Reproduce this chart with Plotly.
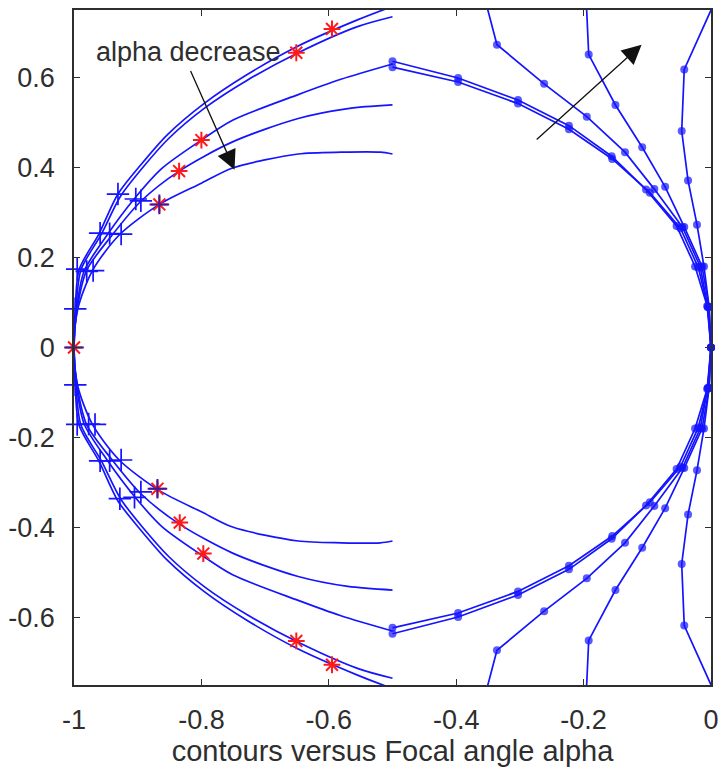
import plotly.graph_objects as go

# ---- axis ticks -----------------------------------------------------------
x_tick_vals = [-1, -0.8, -0.6, -0.4, -0.2, 0]
x_tick_text = ["-1", "-0.8", "-0.6", "-0.4", "-0.2", "0"]
y_tick_vals = [-0.6, -0.4, -0.2, 0, 0.2, 0.4, 0.6]
y_tick_text = ["-0.6", "-0.4", "-0.2", "0", "0.2", "0.4", "0.6"]

# ---- left-hand contours (one per focal angle), lower end -> (-1,0) -> upper end
curve_a_x = [-0.500, -0.555, -0.648, -0.730, -0.796, -0.854, -0.895, -0.931, -0.961, -0.992, -0.998, -1.000,
             -0.998, -0.992, -0.961, -0.931, -0.895, -0.854, -0.796, -0.730, -0.648, -0.555, -0.500]
curve_a_y = [-0.758, -0.728, -0.670, -0.605, -0.542, -0.472, -0.406, -0.341, -0.252, -0.173, -0.086, 0.000,
             0.086, 0.173, 0.252, 0.341, 0.406, 0.472, 0.542, 0.605, 0.670, 0.728, 0.758]

curve_b_x = [-0.500, -0.555, -0.648, -0.728, -0.794, -0.851, -0.892, -0.927, -0.957, -0.989, -0.997, -1.000,
             -0.997, -0.989, -0.957, -0.927, -0.892, -0.851, -0.794, -0.728, -0.648, -0.555, -0.500]
curve_b_y = [-0.735, -0.713, -0.655, -0.594, -0.533, -0.465, -0.400, -0.336, -0.252, -0.173, -0.086, 0.000,
             0.086, 0.173, 0.252, 0.336, 0.400, 0.465, 0.533, 0.594, 0.655, 0.713, 0.735]

curve_c_x = [-0.500, -0.581, -0.648, -0.751, -0.800, -0.862, -0.905, -0.948, -0.984, -0.996, -1.000,
             -0.996, -0.984, -0.948, -0.905, -0.862, -0.800, -0.751, -0.648, -0.581, -0.500]
curve_c_y = [-0.630, -0.596, -0.562, -0.505, -0.461, -0.398, -0.331, -0.250, -0.170, -0.086, 0.000,
             0.086, 0.170, 0.250, 0.331, 0.398, 0.461, 0.505, 0.562, 0.596, 0.630]

curve_d_x = [-0.500, -0.570, -0.648, -0.751, -0.835, -0.895, -0.940, -0.980, -0.995, -1.000,
             -0.995, -0.980, -0.940, -0.895, -0.835, -0.751, -0.648, -0.570, -0.500]
curve_d_y = [-0.539, -0.531, -0.509, -0.457, -0.392, -0.325, -0.250, -0.172, -0.086, 0.000,
             0.086, 0.172, 0.250, 0.325, 0.392, 0.457, 0.509, 0.531, 0.539]

curve_e_x = [-0.500, -0.519, -0.580, -0.648, -0.751, -0.800, -0.866, -0.929, -0.971, -0.994, -1.000,
             -0.994, -0.971, -0.929, -0.866, -0.800, -0.751, -0.648, -0.580, -0.519, -0.500]
curve_e_y = [-0.430, -0.434, -0.434, -0.430, -0.399, -0.365, -0.318, -0.250, -0.171, -0.086, 0.000,
             0.086, 0.171, 0.250, 0.318, 0.365, 0.399, 0.430, 0.434, 0.434, 0.430]

# ---- right-hand contours, upper end -> (0,0) -> lower end
right_1_x = [-0.500, -0.397, -0.303, -0.223, -0.156, -0.102, -0.054, -0.025, -0.006, 0.000,
             -0.006, -0.025, -0.054, -0.102, -0.156, -0.223, -0.303, -0.397, -0.500]
right_1_y = [0.636, 0.599, 0.550, 0.493, 0.425, 0.351, 0.270, 0.180, 0.092, 0.000,
             -0.092, -0.180, -0.270, -0.351, -0.425, -0.493, -0.550, -0.599, -0.636]

right_2_x = [-0.500, -0.397, -0.303, -0.223, -0.155, -0.096, -0.048, -0.020, -0.005, 0.000,
             -0.005, -0.020, -0.048, -0.096, -0.155, -0.223, -0.303, -0.397, -0.500]
right_2_y = [0.623, 0.590, 0.542, 0.485, 0.419, 0.344, 0.265, 0.178, 0.090, 0.000,
             -0.090, -0.178, -0.265, -0.344, -0.419, -0.485, -0.542, -0.590, -0.623]

right_3_x = [-0.355, -0.336, -0.262, -0.195, -0.135, -0.089, -0.045, -0.017, -0.005, 0.000,
             -0.005, -0.017, -0.045, -0.089, -0.135, -0.195, -0.262, -0.336, -0.355]
right_3_y = [0.775, 0.673, 0.586, 0.513, 0.434, 0.352, 0.268, 0.180, 0.090, 0.000,
             -0.090, -0.180, -0.268, -0.352, -0.434, -0.513, -0.586, -0.673, -0.775]

right_4_x = [-0.196, -0.192, -0.150, -0.108, -0.072, -0.042, -0.014, -0.003, 0.000,
             -0.003, -0.014, -0.042, -0.072, -0.108, -0.150, -0.192, -0.196]
right_4_y = [0.775, 0.651, 0.539, 0.445, 0.357, 0.268, 0.180, 0.090, 0.000,
             -0.090, -0.180, -0.268, -0.357, -0.445, -0.539, -0.651, -0.775]

right_5_x = [0.008, -0.042, -0.046, -0.036, -0.022, -0.011, -0.003, 0.000,
             -0.003, -0.011, -0.022, -0.036, -0.046, -0.042, 0.008]
right_5_y = [0.775, 0.618, 0.481, 0.371, 0.273, 0.180, 0.090, 0.000,
             -0.090, -0.180, -0.273, -0.371, -0.481, -0.618, -0.775]

# ---- point markers on the left contours
plus_x = [-0.931, -0.903, -0.895, -0.959, -0.944, -0.926, -0.995, -0.980, -0.970, -0.998,
          -0.998, -0.995, -0.977, -0.967, -0.959, -0.944, -0.926, -0.928, -0.905, -0.895]
plus_y = [0.341, 0.330, 0.326, 0.254, 0.253, 0.252, 0.174, 0.169, 0.171, 0.086,
          -0.083, -0.171, -0.170, -0.171, -0.252, -0.252, -0.250, -0.336, -0.333, -0.321]

star_x = [-0.595, -0.651, -0.800, -0.835, -0.595, -0.651, -0.797, -0.834]
star_y = [0.708, 0.655, 0.461, 0.392, -0.705, -0.652, -0.458, -0.389]

mixed_star_x = [-0.866, -1.000, -0.869]
mixed_star_y = [0.318, 0.000, -0.314]

BLUE = "#1414ff"
RED = "#ff1a1a"
PURPLE = "#3c1a9e"
INK = "#2e2e2e"
FONT = "Liberation Sans, Arial, sans-serif"

fig = go.Figure()

for cx, cy in [(curve_a_x, curve_a_y), (curve_b_x, curve_b_y), (curve_c_x, curve_c_y),
               (curve_d_x, curve_d_y), (curve_e_x, curve_e_y)]:
    fig.add_trace(go.Scatter(x=cx, y=cy, mode="lines",
                             line=dict(color=BLUE, width=1.7, shape="spline", smoothing=0.8),
                             hoverinfo="skip"))

# right contours: polylines with a dot at every computed vertex
for rx, ry, edge_points in [(right_1_x, right_1_y, False), (right_2_x, right_2_y, False),
                            (right_3_x, right_3_y, True), (right_4_x, right_4_y, True),
                            (right_5_x, right_5_y, True)]:
    sizes = [8] * len(rx)
    if edge_points:
        sizes[0] = 0
        sizes[-1] = 0
    fig.add_trace(go.Scatter(x=rx, y=ry, mode="lines", line=dict(color=BLUE, width=1.7),
                             hoverinfo="skip"))
    fig.add_trace(go.Scatter(x=rx, y=ry, mode="markers", cliponaxis=False,
                             marker=dict(color=BLUE, size=sizes, symbol="circle", line=dict(width=0)),
                             hoverinfo="skip"))

fig.add_trace(go.Scatter(x=plus_x, y=plus_y, mode="markers", cliponaxis=False,
                         marker=dict(symbol="cross-thin-open", size=16, color=BLUE,
                                     line=dict(color=BLUE, width=1.7)),
                         hoverinfo="skip"))
fig.add_trace(go.Scatter(x=star_x, y=star_y, mode="markers", cliponaxis=False,
                         marker=dict(symbol="asterisk-open", size=14, color=RED,
                                     line=dict(color=RED, width=2)),
                         hoverinfo="skip"))
fig.add_trace(go.Scatter(x=mixed_star_x, y=mixed_star_y, mode="markers", cliponaxis=False,
                         marker=dict(symbol="asterisk-open", size=14, color=RED,
                                     line=dict(color=RED, width=2)),
                         hoverinfo="skip"))
fig.add_trace(go.Scatter(x=mixed_star_x, y=mixed_star_y, mode="markers", cliponaxis=False,
                         marker=dict(symbol="cross-thin-open", size=14, color=PURPLE,
                                     line=dict(color=PURPLE, width=2)),
                         hoverinfo="skip"))

# annotation text and direction arrows
fig.add_annotation(x=-0.968, y=0.656, xref="x", yref="y", text="alpha decrease",
                   showarrow=False, xanchor="left", yanchor="middle",
                   font=dict(family=FONT, size=27, color=INK))
fig.add_annotation(x=-0.748, y=0.395, ax=-0.818, ay=0.618, xref="x", yref="y", axref="x", ayref="y",
                   text="", showarrow=True, arrowhead=2, arrowsize=3.0, arrowwidth=1.3, arrowcolor="#111111")
fig.add_annotation(x=-0.109, y=0.673, ax=-0.276, ay=0.459, xref="x", yref="y", axref="x", ayref="y",
                   text="", showarrow=True, arrowhead=2, arrowsize=3.0, arrowwidth=1.3, arrowcolor="#111111")

axis_common = dict(showgrid=False, zeroline=False, showline=True, linecolor=INK, linewidth=1.5,
                   mirror="ticks", ticks="inside", ticklen=6, tickwidth=1.4, tickcolor=INK,
                   tickfont=dict(family=FONT, size=27, color=INK))

fig.update_xaxes(range=[-1, 0], tickvals=x_tick_vals, ticktext=x_tick_text,
                 ticklabelstandoff=10,
                 title=dict(text="contours versus Focal angle alpha", standoff=6,
                            font=dict(family=FONT, size=29, color=INK)),
                 **axis_common)
fig.update_yaxes(range=[-0.75, 0.75], tickvals=y_tick_vals, ticktext=y_tick_text,
                 ticklabelstandoff=12, **axis_common)

fig.update_layout(width=727, height=769, margin=dict(l=72, r=8, t=9, b=76),
                  paper_bgcolor="white", plot_bgcolor="white", showlegend=False)

fig.write_html("out.html")
